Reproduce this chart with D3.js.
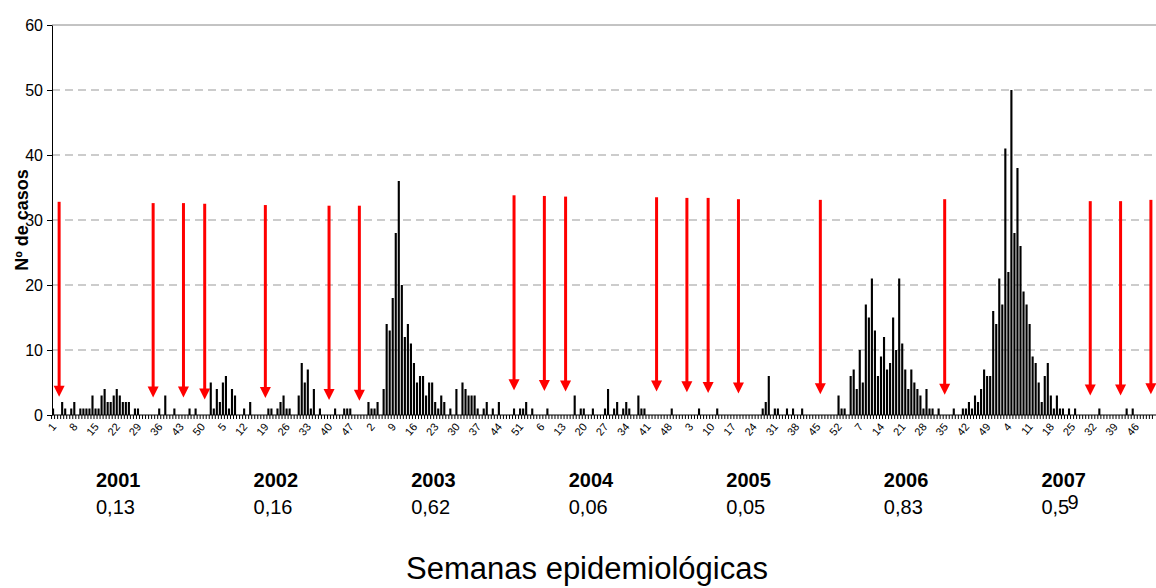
<!DOCTYPE html>
<html><head><meta charset="utf-8">
<script src="https://cdn.jsdelivr.net/npm/d3@7"></script>
<style>body{margin:0;background:#fff;} svg{display:block;font-family:"Liberation Sans",Arial,sans-serif;}</style>
</head><body><svg id="c" width="1156" height="588"></svg>
<script>
const years = ["2001","2002","2003","2004","2005","2006","2007"];
const rates = ["0,13","0,16","0,62","0,06","0,05","0,83","0,5"];
const cases2001 = [1,0,0,2,1,0,1,2,0,1,1,1,1,3,1,1,3,4,2,2,3,4,3,2,2,2,0,1,1,0,0,0,0,0,0,1,0,3,0,0,1,0,0,0,0,1,0,1,0,0,0,0];
const cases2002 = [5,1,4,2,5,6,1,4,3,0,0,1,0,2,0,0,0,0,0,1,1,0,1,2,3,1,1,0,0,3,8,5,7,1,4,0,1,0,0,0,0,1,0,0,1,1,1,0,0,0,0,0];
const cases2003 = [2,1,1,2,0,4,14,13,18,28,36,20,12,14,11,8,5,6,6,3,5,5,2,1,3,2,0,1,0,4,0,5,4,3,3,3,1,0,1,2,0,1,0,2,0,0,0,0,1,0,1,1];
const cases2004 = [2,0,1,0,0,0,0,1,0,0,0,0,0,0,0,0,3,0,1,1,0,0,1,0,0,0,1,4,0,1,2,0,1,2,1,0,0,3,1,1,0,0,0,0,0,0,0,0,1,0,0,0];
const cases2005 = [0,0,0,0,0,1,0,0,0,0,0,1,0,0,0,0,0,0,0,0,0,0,0,0,0,0,1,2,6,0,1,1,0,0,1,0,1,0,0,1,0,0,0,0,0,0,0,0,0,0,0,3];
const cases2006 = [1,1,0,6,7,4,10,5,17,15,21,13,6,9,12,7,8,15,10,21,11,7,4,7,5,4,3,1,4,1,1,0,1,0,0,0,0,1,0,0,1,1,2,1,3,2,4,7,6,6,16,14];
const cases2007 = [21,17,41,22,50,28,38,26,19,17,14,9,8,5,2,6,8,3,1,3,1,1,0,1,0,1,0,0,0,0,0,0,0,1,0,0,0,0,0,0,0,0,1,0,1,0,0,0,0,0,0,0];
const weekTickLabels = ["1","8","15","22","29","36","43","50","5","12","19","26","33","40","47","2","9","16","23","30","37","44","51","6","13","20","27","34","41","48","3","10","17","24","31","38","45","52","7","14","21","28","35","42","49","4","11","18","25","32","39","46"];
const yTicks = [0,10,20,30,40,50,60];
const arrowWeeks = [2,33,43,50,70,91,101,152,162,169,199,209,216,226,253,294,342,352,362];
const arrowTop = [32.8,32.6,32.6,32.5,32.3,32.2,32.2,33.8,33.7,33.6,33.5,33.4,33.4,33.2,33.1,33.2,32.9,32.9,33.1];
const arrowTip = [2.8,2.7,2.7,2.4,2.6,2.3,2.2,3.8,3.7,3.6,3.6,3.5,3.4,3.3,3.2,3.1,3.0,3.0,3.2];

const allCases = [].concat(cases2001,cases2002,cases2003,cases2004,cases2005,cases2006,cases2007);
const svg = d3.select("#c");
const x = d3.scaleBand().domain(d3.range(allCases.length)).range([52,1155]).paddingInner(0.3).paddingOuter(0);
const step = x.step();
const y = d3.scaleLinear().domain([0,60]).range([415,25]);

// gridlines
svg.append("g").selectAll("line").data(yTicks.filter(d=>d>0 && d<60)).join("line")
  .attr("x1",52).attr("x2",1156).attr("y1",d=>y(d)).attr("y2",d=>y(d))
  .attr("stroke","#999").attr("stroke-width",1).attr("stroke-dasharray","8,5");
svg.append("line").attr("x1",52).attr("x2",1156).attr("y1",y(60)).attr("y2",y(60)).attr("stroke","#888").attr("stroke-width",1);

// y axis
const ya = svg.append("g").attr("transform","translate(52,0)").call(d3.axisLeft(y).tickValues(yTicks).tickSize(5).tickSizeOuter(0));
ya.select(".domain").attr("stroke","#000");
ya.selectAll("text").attr("font-size",16).attr("font-family","Liberation Sans, Arial").attr("fill","#000").attr("dx","-1");

// bars
svg.append("g").selectAll("rect").data(allCases).join("rect")
  .attr("x",(d,i)=>x(i)).attr("width",x.bandwidth())
  .attr("y",d=>y(d)).attr("height",d=>y(0)-y(d)).attr("fill","#000");

// x axis baseline & ticks
svg.append("line").attr("x1",52).attr("x2",1156).attr("y1",y(0)).attr("y2",y(0)).attr("stroke","#000");
svg.append("g").selectAll("line").data(d3.range(allCases.length)).join("line")
  .attr("x1",i=>x(i)-step*0.15).attr("x2",i=>x(i)-step*0.15).attr("y1",y(0)).attr("y2",y(0)+4).attr("stroke","#000");
svg.append("g").selectAll("text").data(weekTickLabels).join("text")
  .attr("transform",(d,k)=>`translate(${x(k*7)+5},${y(0)+12}) rotate(-50)`)
  .attr("text-anchor","end").attr("font-size",11).attr("fill","#000").text(d=>d);

// arrows
const ag = svg.append("g");
arrowWeeks.forEach((w,k)=>{
  const cx = x(w)+x.bandwidth()/2;
  const tip = y(arrowTip[k]);
  ag.append("line").attr("x1",cx).attr("x2",cx).attr("y1",y(arrowTop[k])).attr("y2",tip-9).attr("stroke","#ff0000").attr("stroke-width",3);
  ag.append("path").attr("d",`M${cx-5.5},${tip-11}L${cx+5.5},${tip-11}L${cx},${tip}Z`).attr("fill","#ff0000");
});

// year labels and rates
const yearX = d3.scaleBand().domain(years).range([52,1155]);
svg.append("g").selectAll("text").data(years).join("text")
  .attr("x",d=>yearX(d)+44).attr("y",487).attr("font-size",20).attr("font-weight","bold").text(d=>d);
svg.append("g").selectAll("text").data(rates).join("text")
  .attr("x",(d,i)=>yearX(years[i])+44).attr("y",514).attr("font-size",20).text(d=>d);
svg.append("text").attr("x",yearX("2007")+70).attr("y",509).attr("font-size",20).text("9");

// axis titles
svg.append("text").attr("transform","translate(28,220) rotate(-90)").attr("text-anchor","middle")
  .attr("font-size",18).attr("font-weight","bold").text("Nº de casos");
svg.append("text").attr("x",587).attr("y",579).attr("text-anchor","middle").attr("font-size",31).text("Semanas epidemiológicas");
</script></body></html>
